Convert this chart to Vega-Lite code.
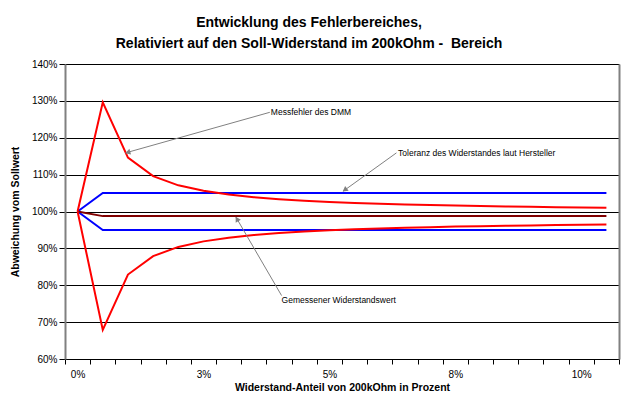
{
  "$schema": "https://vega.github.io/schema/vega-lite/v6.json",
  "width": 554,
  "height": 295,
  "autosize": {"type": "none"},
  "padding": {"left": 65, "top": 64, "right": 21, "bottom": 40},
  "background": "white",
  "config": {
    "view": {"stroke": null},
    "font": "Liberation Sans",
    "axis": {"labelFont": "Liberation Sans", "titleFont": "Liberation Sans", "labelColor": "black", "titleColor": "black", "labelFontSize": 10},
    "axisX": {"labelOverlap": false, "labelFlush": false, "labelBound": false}
  },
  "title": {
    "text": ["Entwicklung des Fehlerbereiches,", "Relativiert auf den Soll-Widerstand im 200kOhm - \u00a0Bereich"],
    "font": "Liberation Sans", "fontSize": 14, "fontWeight": "bold", "color": "black",
    "anchor": "middle", "dx": -33, "offset": 8, "lineHeight": 21
  },
  "datasets": {
    "series": [
      {"x": 0, "tu": 100, "tl": 100, "m": 100, "eu": 100, "el": 100},
      {"x": 0.5, "tu": 105, "tl": 95, "m": 98.75, "eu": 129.6, "el": 67.9},
      {"x": 1, "tu": 105, "tl": 95, "m": 98.75, "eu": 114.6, "el": 82.9},
      {"x": 1.5, "tu": 105, "tl": 95, "m": 98.75, "eu": 109.6, "el": 87.9},
      {"x": 2, "tu": 105, "tl": 95, "m": 98.75, "eu": 107.1, "el": 90.4},
      {"x": 2.5, "tu": 105, "tl": 95, "m": 98.75, "eu": 105.6, "el": 91.9},
      {"x": 3, "tu": 105, "tl": 95, "m": 98.75, "eu": 104.6, "el": 92.9},
      {"x": 3.5, "tu": 105, "tl": 95, "m": 98.75, "eu": 103.89, "el": 93.61},
      {"x": 4, "tu": 105, "tl": 95, "m": 98.75, "eu": 103.35, "el": 94.15},
      {"x": 4.5, "tu": 105, "tl": 95, "m": 98.75, "eu": 102.93, "el": 94.57},
      {"x": 5, "tu": 105, "tl": 95, "m": 98.75, "eu": 102.6, "el": 94.9},
      {"x": 5.5, "tu": 105, "tl": 95, "m": 98.75, "eu": 102.33, "el": 95.17},
      {"x": 6, "tu": 105, "tl": 95, "m": 98.75, "eu": 102.1, "el": 95.4},
      {"x": 6.5, "tu": 105, "tl": 95, "m": 98.75, "eu": 101.91, "el": 95.59},
      {"x": 7, "tu": 105, "tl": 95, "m": 98.75, "eu": 101.74, "el": 95.76},
      {"x": 7.5, "tu": 105, "tl": 95, "m": 98.75, "eu": 101.6, "el": 95.9},
      {"x": 8, "tu": 105, "tl": 95, "m": 98.75, "eu": 101.48, "el": 96.02},
      {"x": 8.5, "tu": 105, "tl": 95, "m": 98.75, "eu": 101.37, "el": 96.13},
      {"x": 9, "tu": 105, "tl": 95, "m": 98.75, "eu": 101.27, "el": 96.23},
      {"x": 9.5, "tu": 105, "tl": 95, "m": 98.75, "eu": 101.18, "el": 96.32},
      {"x": 10, "tu": 105, "tl": 95, "m": 98.75, "eu": 101.1, "el": 96.4},
      {"x": 10.5, "tu": 105, "tl": 95, "m": 98.75, "eu": 101.03, "el": 96.47}
    ],
    "notes": [
      {"x": 3.837, "y": 127.1, "label": "Messfehler des DMM"},
      {"x": 6.363, "y": 115.9, "label": "Toleranz des Widerstandes laut Hersteller"},
      {"x": 4.05, "y": 76.1, "label": "Gemessener Widerstandswert"}
    ],
    "arrows": [
      {"id": 1, "x": 3.817, "y": 126.9},
      {"id": 1, "x": 0.954, "y": 115.9},
      {"id": 2, "x": 6.331, "y": 115.9},
      {"id": 2, "x": 5.272, "y": 105.5},
      {"id": 3, "x": 4.05, "y": 77.2},
      {"id": 3, "x": 3.143, "y": 98.5}
    ],
    "heads": [
      {"x": 1.012, "y": 116.08, "ang": 254.2},
      {"x": 5.319, "y": 105.98, "ang": 234.3},
      {"x": 3.173, "y": 97.75, "ang": 329.7}
    ]
  },
  "resolve": {"axis": {"y": "independent"}},
  "layer": [
    {
      "data": {"name": "series"},
      "transform": [{"fold": ["tu", "tl"], "as": ["key", "value"]}],
      "mark": {"type": "line", "color": "#0000FF", "strokeWidth": 2},
      "encoding": {
        "x": {
          "field": "x", "type": "quantitative",
          "scale": {"domain": [-0.25, 10.75], "nice": false, "zero": false},
          "axis": {
            "values": [-0.25, 0.25, 0.75, 1.25, 1.75, 2.25, 2.75, 3.25, 3.75, 4.25, 4.75, 5.25, 5.75, 6.25, 6.75, 7.25, 7.75, 8.25, 8.75, 9.25, 9.75, 10.25, 10.75],
            "tickCount": 60,
            "labelExpr": "datum.value == -0.25 ? '0%' : datum.value == 2.25 ? '3%' : datum.value == 4.75 ? '5%' : datum.value == 7.25 ? '8%' : datum.value == 9.75 ? '10%' : ''",
            "labelOffset": 12.59, "labelOverlap": false, "labelFlush": false, "labelBound": false,
            "labelPadding": 5, "tickSize": 5, "tickColor": "black", "tickWidth": 1,
            "domainColor": "black", "domainWidth": 1, "grid": false,
            "title": "Widerstand-Anteil von 200kOhm in Prozent",
            "titleFontSize": 10.5, "titleFontWeight": "bold", "titlePadding": 3
          }
        },
        "y": {
          "field": "value", "type": "quantitative",
          "scale": {"domain": [60, 140], "nice": false, "zero": false},
          "axis": {
            "values": [60, 70, 80, 90, 100, 110, 120, 130, 140],
            "labelExpr": "datum.value + '%'",
            "grid": true, "gridColor": "black", "gridOpacity": 1, "gridWidth": 1,
            "tickSize": 6, "tickColor": "black", "tickWidth": 1, "labelPadding": 2,
            "domainColor": "#808080", "domainWidth": 2,
            "title": "Abweichung vom Sollwert", "titleFontSize": 10.5, "titleFontWeight": "bold", "titlePadding": 11
          }
        },
        "detail": {"field": "key"}
      }
    },
    {
      "data": {"name": "series"},
      "mark": {"type": "line", "color": "#800000", "strokeWidth": 2},
      "encoding": {
        "x": {"field": "x", "type": "quantitative"},
        "y": {
          "field": "m", "type": "quantitative",
          "axis": {"orient": "right", "labels": false, "ticks": false, "grid": false, "title": null, "domainColor": "#808080", "domainWidth": 2}
        }
      }
    },
    {
      "data": {"name": "series"},
      "transform": [{"fold": ["eu", "el"], "as": ["key", "value"]}],
      "mark": {"type": "line", "color": "#FF0000", "strokeWidth": 2},
      "encoding": {
        "x": {"field": "x", "type": "quantitative"},
        "y": {"field": "value", "type": "quantitative", "axis": null},
        "detail": {"field": "key"}
      }
    },
    {
      "data": {"name": "arrows"},
      "mark": {"type": "line", "color": "#808080", "strokeWidth": 1},
      "encoding": {
        "x": {"field": "x", "type": "quantitative"},
        "y": {"field": "y", "type": "quantitative", "axis": null},
        "detail": {"field": "id"}
      }
    },
    {
      "data": {"name": "heads"},
      "mark": {"type": "point", "shape": "triangle", "filled": true, "color": "#808080", "opacity": 1, "size": 36},
      "encoding": {
        "x": {"field": "x", "type": "quantitative"},
        "y": {"field": "y", "type": "quantitative", "axis": null},
        "angle": {"field": "ang", "type": "quantitative", "scale": null}
      }
    },
    {
      "data": {"name": "notes"},
      "mark": {"type": "text", "align": "left", "baseline": "middle", "font": "Liberation Sans", "fontSize": 8.5, "color": "black"},
      "encoding": {
        "x": {"field": "x", "type": "quantitative"},
        "y": {"field": "y", "type": "quantitative", "axis": null},
        "text": {"field": "label"}
      }
    }
  ]
}
